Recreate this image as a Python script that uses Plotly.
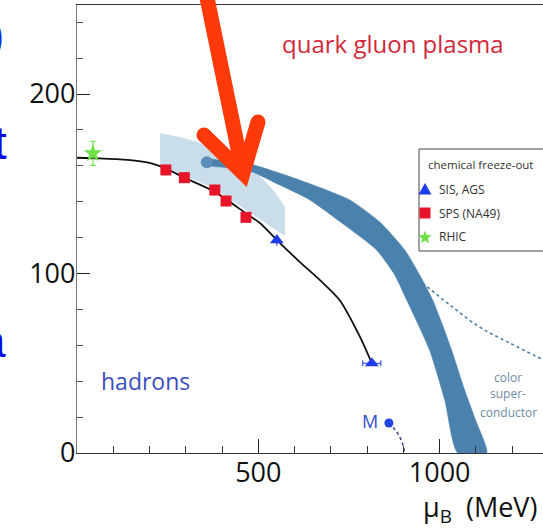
import math
import plotly.graph_objects as go

# ---------------- data ----------------
# chemical freeze-out curve (mu_B in MeV, T in MeV)
curve_mu = [0, 60, 140, 200, 245, 295, 380, 466, 505, 552, 614, 670, 725, 780, 813]
curve_T = [164.5, 164.2, 163.3, 161.6, 158.5, 153.5, 145.5, 133.5, 128.0, 118.5, 106.5, 96.3, 85.0, 64.8, 50.0]

# SIS, AGS points
sis_mu = [551, 813]
sis_T = [118.5, 50.0]
sis_err_mu = [0, 25]
sis_err_T = [3, 0]

# SPS (NA49) points
sps_mu = [245, 296, 380, 411, 466]
sps_T = [157.7, 153.4, 146.5, 140.4, 131.3]
sps_err_T = [3, 3, 3, 3, 3]

# RHIC point
rhic_mu = [44]
rhic_T = [167]
rhic_err_T = [6.7]
rhic_err_mu = [10]

# light blue region (lattice estimate)
light_top_mu = [229, 284, 339, 394, 449, 504, 546, 573]
light_top_T = [178.3, 176.0, 172.7, 168.2, 162.7, 154.3, 145.4, 137.0]
light_bot_mu = [573, 504, 469, 380, 292, 229]
light_bot_T = [120.9, 130.4, 134.8, 147.1, 154.9, 160.4]

# dark blue transition band
band_outer_mu = [358, 477, 614, 752, 835, 904, 945, 981, 1008, 1033, 1069, 1099, 1130]
band_outer_T = [164.0, 161.0, 152.1, 141.0, 128.7, 113.1, 99.2, 85.2, 71.3, 57.4, 35.1, 18.4, 0.0]
band_inner_mu = [358, 477, 559, 642, 738, 826, 876, 909, 972, 1014, 1050]
band_inner_T = [160.0, 157.0, 149.3, 141.0, 127.0, 113.1, 99.2, 85.2, 57.4, 29.5, 0.0]

# critical point
cp_mu = [358]
cp_T = [162]

# colour superconductor boundary (dotted)
csc_mu = [953, 1028, 1110, 1193, 1290]
csc_T = [94.7, 82.5, 70.2, 61.3, 51.5]

# nuclear matter point M and its dotted line
m_mu = [860]
m_T = [16.7]
m_line_mu = [860, 882, 896, 904]
m_line_T = [16.7, 11.7, 6.1, 0.0]

x_ticks = [500, 1000]
y_ticks = [0, 100, 200]

legend_title = "chemical freeze-out"
legend_names = ["SIS, AGS", "SPS (NA49)", "RHIC"]

X_RANGE = [0, 1285]
Y_RANGE = [0, 249.6]

FONT = "Open Sans"
C_SIS = "#1d3be8"
C_SPS = "#e8152a"
C_RHIC = "#6fe24a"

fig = go.Figure()

fig.add_trace(go.Scatter(
    x=light_top_mu + light_bot_mu, y=light_top_T + light_bot_T,
    fill="toself", fillcolor="#c9ddeb", mode="lines", line=dict(width=0, color="#c9ddeb"),
    hoverinfo="skip", showlegend=False))

fig.add_trace(go.Scatter(
    x=band_outer_mu + band_inner_mu[::-1], y=band_outer_T + band_inner_T[::-1],
    fill="toself", fillcolor="#4a82ad", mode="lines",
    line=dict(width=0.5, color="#4a82ad", shape="spline", smoothing=0.6),
    hoverinfo="skip", showlegend=False))

fig.add_trace(go.Scatter(
    x=cp_mu, y=cp_T, mode="markers",
    marker=dict(symbol="circle", size=12, color="#5b8fba"),
    hoverinfo="skip", showlegend=False))

fig.add_trace(go.Scatter(
    x=csc_mu, y=csc_T, mode="lines",
    line=dict(color="#4d7fa6", width=1.6, dash="dot", shape="spline"),
    hoverinfo="skip", showlegend=False))

fig.add_trace(go.Scatter(
    x=m_line_mu, y=m_line_T, mode="lines",
    line=dict(color="#3a4a8a", width=1.6, dash="dot", shape="spline"),
    hoverinfo="skip", showlegend=False))

fig.add_trace(go.Scatter(
    x=m_mu, y=m_T, mode="markers",
    marker=dict(symbol="circle", size=9, color="#2044e0"),
    hoverinfo="skip", showlegend=False))

fig.add_trace(go.Scatter(
    x=curve_mu, y=curve_T, mode="lines",
    line=dict(color="#111111", width=1.8, shape="spline", smoothing=0.8),
    hoverinfo="skip", showlegend=False))

fig.add_trace(go.Scatter(
    x=sis_mu, y=sis_T, mode="markers", name=legend_names[0],
    marker=dict(symbol="triangle-up", size=12, color=C_SIS),
    error_x=dict(type="data", array=sis_err_mu, color=C_SIS, thickness=1, width=3),
    error_y=dict(type="data", array=sis_err_T, color=C_SIS, thickness=1, width=0),
    showlegend=False))
fig.add_trace(go.Scatter(
    x=sps_mu, y=sps_T, mode="markers", name=legend_names[1],
    marker=dict(symbol="square", size=11, color=C_SPS),
    error_y=dict(type="data", array=sps_err_T, color="#c01020", thickness=1, width=0),
    showlegend=False))
fig.add_trace(go.Scatter(
    x=rhic_mu, y=rhic_T, mode="markers", name=legend_names[2],
    marker=dict(symbol="star", size=14, color=C_RHIC),
    error_y=dict(type="data", array=rhic_err_T, color=C_RHIC, thickness=1.2, width=3),
    error_x=dict(type="data", array=rhic_err_mu, color=C_RHIC, thickness=1.2, width=0),
    showlegend=False))

# ---------------- layout ----------------
W, H = 543, 531
ML, MR, MT, MB = 77, 0, 5, 78
PW, PH = W - ML - MR, H - MT - MB


def px_to_paper(px, py):
    return (px - ML) / PW, (H - MB - py) / PH


def path_from_px(points, close=True):
    parts = []
    for i, (px, py) in enumerate(points):
        xx, yy = px_to_paper(px, py)
        parts.append(("M" if i == 0 else "L") + f" {xx:.5f},{yy:.5f}")
    return " ".join(parts) + (" Z" if close else "")


annotations = [
    dict(text="quark gluon plasma", x=871, y=228.4, xref="x", yref="y", showarrow=False,
         font=dict(family=FONT, size=24, color="#d2283a")),
    dict(text="hadrons", x=187.5, y=40.1, xref="x", yref="y", showarrow=False,
         font=dict(family=FONT, size=23, color="#3a4fc0")),
    dict(text="color", x=1189, y=42.3, xref="x", yref="y", showarrow=False,
         font=dict(family=FONT, size=12, color="#6f8ca6")),
    dict(text="super-", x=1189, y=32.9, xref="x", yref="y", showarrow=False,
         font=dict(family=FONT, size=12, color="#6f8ca6")),
    dict(text="conductor", x=1189, y=22.8, xref="x", yref="y", showarrow=False,
         font=dict(family=FONT, size=12, color="#6f8ca6")),
    dict(text="M", x=835, y=17.8, xref="x", yref="y", xanchor="right", showarrow=False,
         font=dict(family=FONT, size=18, color="#3050d0")),
]

# axis title
ax_x, ax_y = px_to_paper(539, 508)
annotations.append(dict(text="\u03bc<sub>B</sub>\u00a0\u00a0(MeV)", x=ax_x, y=ax_y, xref="paper", yref="paper",
                        xanchor="right", yanchor="middle", showarrow=False,
                        font=dict(family=FONT, size=27, color="#111111")))

# cut-off slide text at far left
for txt, px, py, size, col in [(")", 6, 35, 46, "#1030e0"), ("t", 9, 143, 46, "#0a0ae8"),
                               ("a", 8, 341, 46, "#0a0ae8")]:
    xx, yy = px_to_paper(px, py)
    annotations.append(dict(text=txt, x=xx, y=yy, xref="paper", yref="paper", xanchor="right",
                            yanchor="middle", showarrow=False,
                            font=dict(family="Liberation Sans", size=size, color=col)))

shapes = []

# ----- legend box (drawn as a framed key) -----
LG_L, LG_T, LG_R, LG_B = 419, 149, 550, 251
bx0, by1 = px_to_paper(LG_L, LG_T)
bx1, by0 = px_to_paper(LG_R, LG_B)
shapes.append(dict(type="rect", xref="paper", yref="paper", x0=bx0, x1=bx1, y0=by0, y1=by1,
                   fillcolor="white", line=dict(color="#444444", width=1), layer="above"))
tx, ty = px_to_paper(480, 164)
annotations.append(dict(text=legend_title, x=tx, y=ty, xref="paper", yref="paper", showarrow=False,
                        xanchor="center", yanchor="middle",
                        font=dict(family=FONT, size=11.5, color="#333333")))
row_y = [189, 213, 237]
sym_x = 425
for name, ry in zip(legend_names, row_y):
    lx, ly = px_to_paper(437, ry)
    annotations.append(dict(text=name, x=lx, y=ly, xref="paper", yref="paper", showarrow=False,
                            xanchor="left", yanchor="middle",
                            font=dict(family=FONT, size=12, color="#333333")))
# triangle
shapes.append(dict(type="path", xref="paper", yref="paper",
                   path=path_from_px([(sym_x - 6.5, row_y[0] + 5.5), (sym_x + 6.5, row_y[0] + 5.5),
                                      (sym_x, row_y[0] - 6)]),
                   fillcolor=C_SIS, line=dict(width=0), layer="above"))
# square
shapes.append(dict(type="path", xref="paper", yref="paper",
                   path=path_from_px([(sym_x - 5.5, row_y[1] - 5.5), (sym_x + 5.5, row_y[1] - 5.5),
                                      (sym_x + 5.5, row_y[1] + 5.5), (sym_x - 5.5, row_y[1] + 5.5)]),
                   fillcolor=C_SPS, line=dict(width=0), layer="above"))
# star
star_pts = []
for k in range(10):
    r = 7.0 if k % 2 == 0 else 3.0
    ang = -math.pi / 2 + k * math.pi / 5
    star_pts.append((sym_x + r * math.cos(ang), row_y[2] + 0.5 + r * math.sin(ang)))
shapes.append(dict(type="path", xref="paper", yref="paper", path=path_from_px(star_pts),
                   fillcolor=C_RHIC, line=dict(width=0), layer="above"))

# ----- red arrow pointing at the critical region -----
ARROW = "#ff3a0a"
s0 = px_to_paper(205, -12)
v = px_to_paper(243, 173)
wl = px_to_paper(204, 135)
wr = px_to_paper(258, 122)
shapes += [
    dict(type="path", xref="paper", yref="paper",
         path=f"M {s0[0]},{s0[1]} L {v[0]},{v[1]}",
         line=dict(color=ARROW, width=15), layer="above"),
    dict(type="path", xref="paper", yref="paper",
         path=f"M {wl[0]},{wl[1]} L {v[0]},{v[1]} L {wr[0]},{wr[1]}",
         line=dict(color=ARROW, width=15), layer="above"),
]
for c in (wl, wr):
    rx, ry = 7.5 / PW, 7.5 / PH
    shapes.append(dict(type="circle", xref="paper", yref="paper",
                       x0=c[0] - rx, x1=c[0] + rx, y0=c[1] - ry, y1=c[1] + ry,
                       fillcolor=ARROW, line=dict(width=0), layer="above"))

fig.update_layout(
    width=W, height=H,
    margin=dict(l=ML, r=MR, t=MT, b=MB, pad=0),
    paper_bgcolor="white", plot_bgcolor="white",
    font=dict(family=FONT, color="#111111"),
    xaxis=dict(range=X_RANGE, showgrid=False, zeroline=False,
               showline=True, linecolor="#333333", linewidth=1.2, mirror=True,
               ticks="inside", ticklen=14, tickwidth=1.3, tickcolor="#222222",
               tickmode="array", tickvals=x_ticks, ticktext=[str(t) for t in x_ticks],
               tickfont=dict(family=FONT, size=27, color="#111111"),
               ticklabelstandoff=-5,
               minor=dict(tickmode="array", tickvals=list(range(100, 1300, 100)),
                          ticks="inside", ticklen=7, tickwidth=1, tickcolor="#333333")),
    yaxis=dict(range=Y_RANGE, showgrid=False, zeroline=False,
               showline=True, linecolor="#777777", linewidth=1.2,
               ticks="inside", ticklen=13, tickwidth=1.3, tickcolor="#222222",
               tickmode="array", tickvals=y_ticks, ticktext=[str(t) for t in y_ticks],
               tickfont=dict(family=FONT, size=27, color="#111111"),
               ticklabelstandoff=-5,
               minor=dict(tickmode="array", tickvals=list(range(20, 250, 20)),
                          ticks="inside", ticklen=6, tickwidth=1, tickcolor="#555555")),
    annotations=annotations,
    shapes=shapes,
    showlegend=False,
)

fig.write_html("out.html", config={"displayModeBar": False},
               post_script="document.body.style.margin='0px';document.body.style.overflow='hidden';")
